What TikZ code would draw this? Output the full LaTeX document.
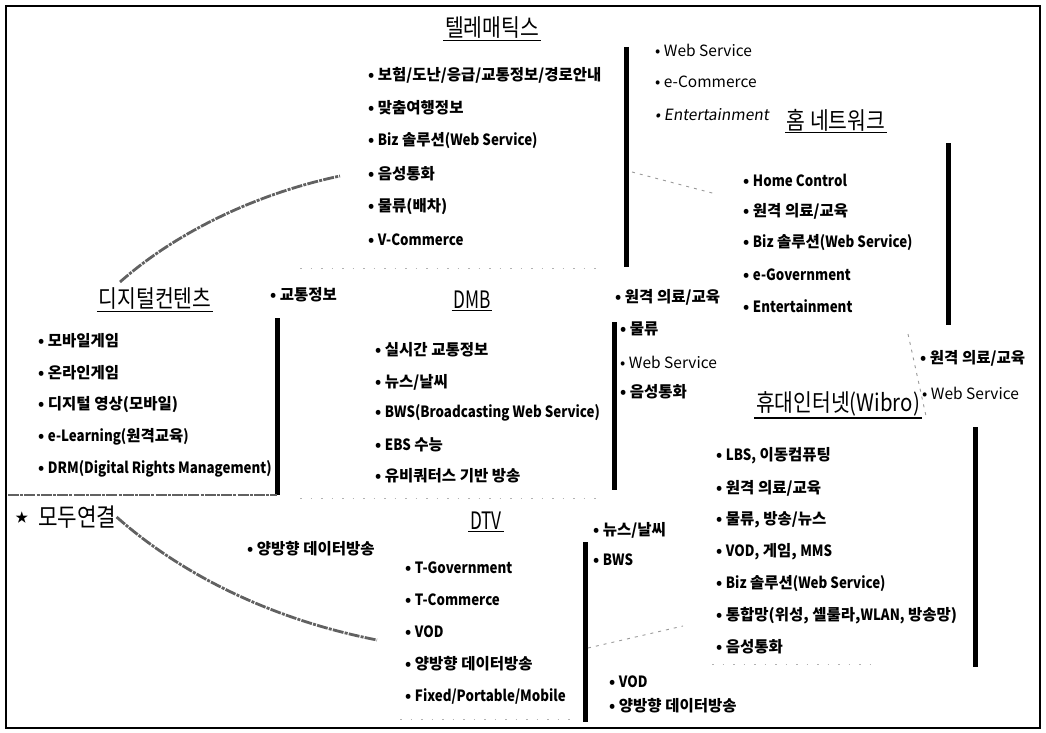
\documentclass[tikz,border=0pt]{standalone}
\usepackage{fontspec}
\setmainfont{Noto Sans CJK KR}
\newfontfamily\titlefont{Noto Sans CJK KR}[FakeStretch=0.85]
\newfontfamily\titlelat{Noto Sans CJK KR}[FakeStretch=0.72]
\newfontfamily\slfont{Noto Sans CJK KR}[FakeSlant=0.15]
\newfontfamily\latf{Noto Sans CJK KR}[FakeStretch=0.86]
\newcommand\lsub[1]{{\latf #1}}
\begin{document}
\begin{tikzpicture}[x=1pt,y=-1pt,
  item/.style={anchor=west,inner sep=0pt,font=\fontsize{15.5}{18}\selectfont\bfseries},
  litem/.style={anchor=west,inner sep=0pt,font=\fontsize{15.5}{18}\selectfont},
  ttl/.style={inner sep=1.5pt,font=\titlefont\fontsize{24}{28}\selectfont},
  uline/.style={line width=1.1pt},
  bar/.style={line width=5pt},
  arcline/.style={draw=black!62,line width=2.8pt,dash pattern=on 11pt off 1.2pt on 3pt off 1.2pt},
  faint/.style={draw=black!40,line width=0.9pt,dash pattern=on 3pt off 5pt},
  faintdot/.style={draw=black!30,line width=0.8pt,dash pattern=on 1.5pt off 9pt},
]
\useasboundingbox (0,0) rectangle (1046,733);
\draw[line width=2.5pt] (6,6) rectangle (1040,728);

% ---------- titles ----------
\node[ttl] (tTel) at (492,28) {텔레매틱스};
\draw[uline] (tTel.south west) -- (tTel.south east);
\node[ttl] (tHome) at (836,120) {홈 네트워크};
\draw[uline] (tHome.south west) -- (tHome.south east);
\node[ttl] (tDig) at (155,299) {디지털컨텐츠};
\draw[uline] (tDig.south west) -- (tDig.south east);
\node[ttl,font=\titlelat\fontsize{24}{28}\selectfont] (tDMB) at (472,300) {DMB};
\draw[uline] (tDMB.south west) -- (tDMB.south east);
\node[ttl] (tWib) at (838,404) {휴대인터넷(Wibro)};
\draw[uline] (tWib.south west) -- (tWib.south east);
\node[ttl,font=\titlelat\fontsize{24}{28}\selectfont] (tDTV) at (486,521) {DTV};
\draw[uline] (tDTV.south west) -- (tDTV.south east);
\node[inner sep=0pt,font=\fontsize{13}{15}\selectfont] (star) at (22,518) {★};
\node[ttl,anchor=west,inner sep=0pt,font=\titlefont\fontsize{25}{28}\selectfont] (tAll) at (38,517) {모두연결};

% ---------- telematics ----------
\node[item] (te1) at (368,75) {• 보험/도난/응급/교통정보/경로안내};
\node[item] (te2) at (368,108) {• 맞춤여행정보};
\node[item] (te3) at (368,141) {• \lsub{Biz} 솔루션\lsub{(Web Service)}};
\node[item] (te4) at (368,174) {• 음성통화};
\node[item] (te5) at (368,207) {• 물류(배차)};
\node[item] (te6) at (368,240) {• \lsub{V-Commerce}};

\node[litem] (tr1) at (655,50) {• Web Service};
\node[litem] (tr2) at (655,82) {• e-Commerce};
\node[litem] (tr3) at (655,115) {\slfont • Entertainment};

% ---------- home network ----------
\node[item] (h1) at (743,180) {• \lsub{Home Control}};
\node[item] (h2) at (743,211) {• 원격 의료/교육};
\node[item] (h3) at (743,243) {• \lsub{Biz} 솔루션\lsub{(Web Service)}};
\node[item] (h4) at (743,275) {• \lsub{e-Government}};
\node[item] (h5) at (743,306) {• \lsub{Entertainment}};

% ---------- middle list ----------
\node[item] (m1) at (615,297) {• 원격 의료/교육};
\node[item] (m2) at (620,329) {• 물류};
\node[litem] (m3) at (620,362) {• Web Service};
\node[item] (m4) at (620,392) {• 음성통화};

\node[item] (r1) at (920,358) {• 원격 의료/교육};
\node[litem] (r2) at (922,393) {• Web Service};

% ---------- digital contents ----------
\node[item] (d1) at (38,341) {• 모바일게임};
\node[item] (d2) at (38,373) {• 온라인게임};
\node[item] (d3) at (38,405) {• 디지털 영상(모바일)};
\node[item] (d4) at (38,437) {• \lsub{e-Learning(}원격교육\lsub{)}};
\node[item] (d5) at (38,469) {• \lsub{DRM(Digital Rights Management)}};
\node[item] (tr) at (270,295) {• 교통정보};

% ---------- DMB ----------
\node[item] (b1) at (375,350) {• 실시간 교통정보};
\node[item] (b2) at (375,382) {• 뉴스/날씨};
\node[item] (b3) at (375,413) {• \lsub{BWS(Broadcasting Web Service)}};
\node[item] (b4) at (375,445) {• \lsub{EBS} 수능};
\node[item] (b5) at (375,476) {• 유비쿼터스 기반 방송};

% ---------- Wibro ----------
\node[item] (w1) at (716,456) {• \lsub{LBS,} 이동컴퓨팅};
\node[item] (w2) at (716,488) {• 원격 의료/교육};
\node[item] (w3) at (716,520) {• 물류, 방송/뉴스};
\node[item] (w4) at (716,552) {• \lsub{VOD,} 게임, \lsub{MMS}};
\node[item] (w5) at (716,584) {• \lsub{Biz} 솔루션\lsub{(Web Service)}};
\node[item] (w6) at (716,616) {• 통합망(위성, 셀룰라,\lsub{WLAN,} 방송망)};
\node[item] (w7) at (716,647) {• 음성통화};

% ---------- DTV ----------
\node[item] (v0) at (247,549) {• 양방향 데이터방송};
\node[item] (v1) at (405,568) {• \lsub{T-Government}};
\node[item] (v2) at (405,600) {• \lsub{T-Commerce}};
\node[item] (v3) at (405,632) {• \lsub{VOD}};
\node[item] (v4) at (405,664) {• 양방향 데이터방송};
\node[item] (v5) at (405,696) {• \lsub{Fixed/Portable/Mobile}};

\node[item] (x1) at (593,530) {• 뉴스/날씨};
\node[item] (x2) at (593,560) {• \lsub{BWS}};
\node[item] (x3) at (609,682) {• \lsub{VOD}};
\node[item] (x4) at (609,706) {• 양방향 데이터방송};

% ---------- thick bars ----------
\coordinate (B1a) at (626,47);  \coordinate (B1b) at (626,267);
\coordinate (B2a) at (948,143); \coordinate (B2b) at (948,325);
\coordinate (B3a) at (277,318); \coordinate (B3b) at (277,495);
\coordinate (B4a) at (614,322); \coordinate (B4b) at (614,490);
\coordinate (B5a) at (975,427); \coordinate (B5b) at (975,667);
\coordinate (B6a) at (585,542); \coordinate (B6b) at (585,722);
\foreach \b in {1,...,6} {\draw[bar] (B\b a) -- (B\b b);}

% digital contents box bottom
\coordinate (dl) at (8,495);
\draw[arcline,line width=2pt] (dl) -- (B3b);

% ---------- connecting arcs ----------
\coordinate (a1s) at (120,282); \coordinate (a1e) at (340,176);
\draw[arcline] (a1s) .. controls (172,236) and (250,195) .. (a1e);
\coordinate (a2e) at (377,640);
\draw[arcline] (tAll.east) .. controls (165,560) and (250,615) .. (a2e);

\coordinate (f1s) at (632,172); \coordinate (f1e) at (716,194);
\draw[faint] (f1s) -- (f1e);
\coordinate (f2s) at (588,648); \coordinate (f2e) at (683,626);
\draw[faint] (f2s) -- (f2e);
\coordinate (f3s) at (908,334); \coordinate (f3e) at (926,416);
\draw[faint] (f3s) -- (f3e);

% faint dotted remnants
\coordinate (g1s) at (300,268); \coordinate (g1e) at (600,268);
\draw[faintdot] (g1s) -- (g1e);
\coordinate (g2s) at (300,498); \coordinate (g2e) at (600,498);
\draw[faintdot] (g2s) -- (g2e);
\coordinate (g3s) at (712,664); \coordinate (g3e) at (880,664);
\draw[faintdot] (g3s) -- (g3e);
\coordinate (g4s) at (400,719); \coordinate (g4e) at (575,719);
\draw[faintdot] (g4s) -- (g4e);
\end{tikzpicture}
\end{document}
